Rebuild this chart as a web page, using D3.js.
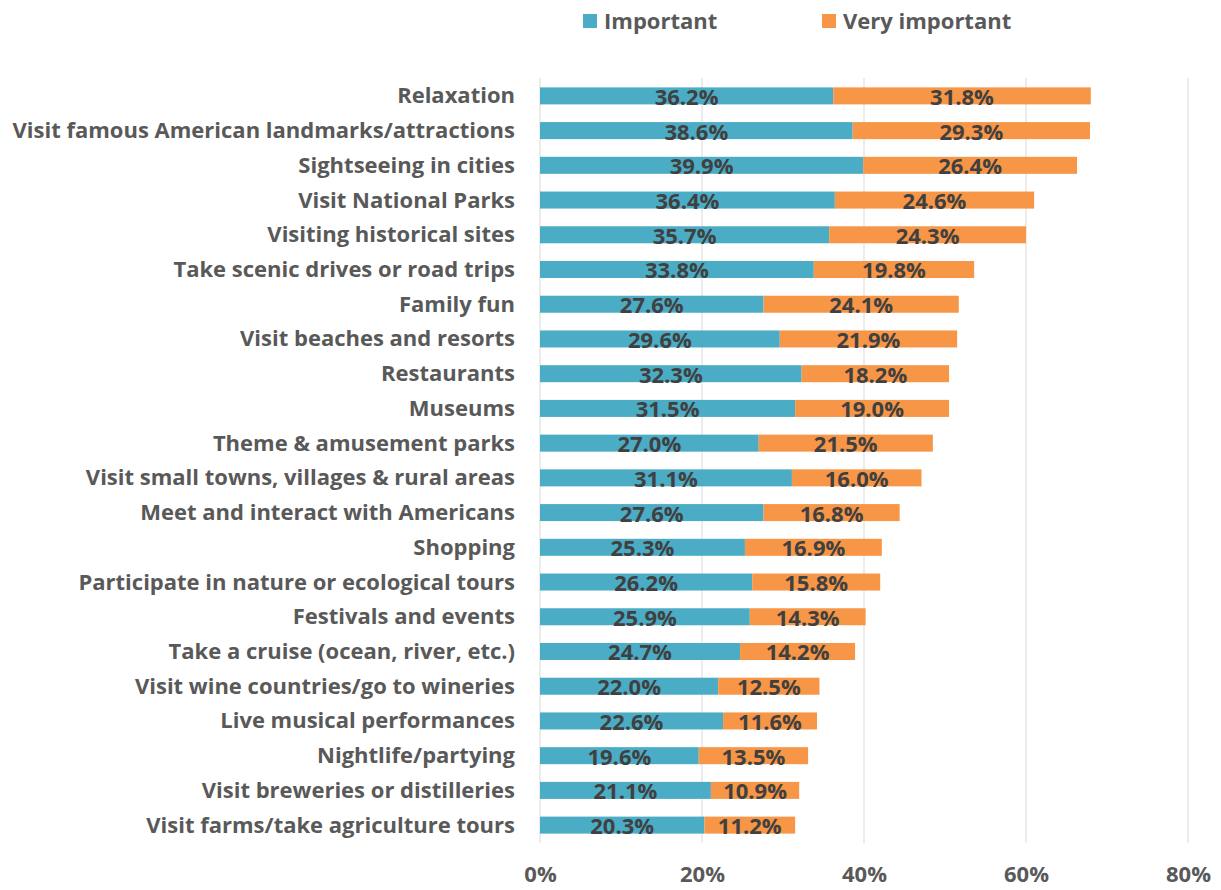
<!DOCTYPE html>
<html>
<head>
<meta charset="utf-8">
<script src="https://cdn.jsdelivr.net/npm/d3@7"></script>
<style>
  html, body { margin: 0; padding: 0; background: #fff; }
  svg text { font-family: "Open Sans", Lato, sans-serif; font-weight: 700; }
</style>
</head>
<body>
<svg id="chart" width="1221" height="890"></svg>
<script>
// Travel activity importance, share of respondents
const categories = [
  "Relaxation",
  "Visit famous American landmarks/attractions",
  "Sightseeing in cities",
  "Visit National Parks",
  "Visiting historical sites",
  "Take scenic drives or road trips",
  "Family fun",
  "Visit beaches and resorts",
  "Restaurants",
  "Museums",
  "Theme & amusement parks",
  "Visit small towns, villages & rural areas",
  "Meet and interact with Americans",
  "Shopping",
  "Participate in nature or ecological tours",
  "Festivals and events",
  "Take a cruise (ocean, river, etc.)",
  "Visit wine countries/go to wineries",
  "Live musical performances",
  "Nightlife/partying",
  "Visit breweries or distilleries",
  "Visit farms/take agriculture tours"
];
const important = [36.2, 38.6, 39.9, 36.4, 35.7, 33.8, 27.6, 29.6, 32.3, 31.5, 27.0, 31.1, 27.6, 25.3, 26.2, 25.9, 24.7, 22.0, 22.6, 19.6, 21.1, 20.3];
const veryImportant = [31.8, 29.3, 26.4, 24.6, 24.3, 19.8, 24.1, 21.9, 18.2, 19.0, 21.5, 16.0, 16.8, 16.9, 15.8, 14.3, 14.2, 12.5, 11.6, 13.5, 10.9, 11.2];
const seriesNames = ["Important", "Very important"];
const seriesColors = ["#4BACC6", "#F79646"];
const xTicks = [0, 20, 40, 60, 80];

const svg = d3.select("#chart");
const margin = { left: 540, right: 33, top: 78, bottom: 47 };
const W = 1221, H = 890;

const x = d3.scaleLinear().domain([0, 80]).range([margin.left, W - margin.right]);
const y = d3.scaleBand().domain(categories).range([margin.top, H - margin.bottom]).paddingInner(0.51).paddingOuter(0.27);

// vertical gridlines
svg.append("g").selectAll("line").data(xTicks).join("line")
  .attr("x1", d => x(d)).attr("x2", d => x(d))
  .attr("y1", margin.top).attr("y2", H - margin.bottom)
  .attr("stroke", "#D9D9D9").attr("stroke-width", 1);

// x axis labels
const xAxis = d3.axisBottom(x).tickValues(xTicks).tickFormat(d => d + "%").tickSize(0).tickPadding(0);
const gx = svg.append("g").attr("transform", `translate(0,${H - margin.bottom + 23})`).call(xAxis);
gx.select(".domain").remove();
gx.selectAll("text").attr("font-size", 22).attr("fill", "#595959").attr("dy", "0.71em");

// category labels
const gy = svg.append("g").attr("transform", `translate(${margin.left - 25},0)`)
  .call(d3.axisLeft(y).tickSize(0).tickPadding(0));
gy.select(".domain").remove();
gy.selectAll("text").attr("font-size", 22).attr("fill", "#595959").attr("dy", "0.34em");

const rows = categories.map((c, i) => ({ c, a: important[i], b: veryImportant[i] }));

const bars = svg.append("g");
rows.forEach(r => {
  const segs = [
    { x0: 0, x1: r.a, v: r.a, col: seriesColors[0] },
    { x0: r.a, x1: r.a + r.b, v: r.b, col: seriesColors[1] }
  ];
  segs.forEach(s => {
    bars.append("rect")
      .attr("x", x(s.x0)).attr("width", x(s.x1) - x(s.x0))
      .attr("y", y(r.c)).attr("height", y.bandwidth())
      .attr("fill", s.col);
    bars.append("text")
      .attr("x", (x(s.x0) + x(s.x1)) / 2)
      .attr("y", y(r.c) + y.bandwidth() / 2 + 1)
      .attr("dy", "0.36em")
      .attr("text-anchor", "middle")
      .attr("font-size", 22)
      .attr("fill", "#404040")
      .text(s.v.toFixed(1) + "%");
  });
});

// legend
const legendX = [583, 822];
const lg = svg.append("g");
seriesNames.forEach((n, i) => {
  lg.append("rect").attr("x", legendX[i]).attr("y", 14).attr("width", 14).attr("height", 14).attr("fill", seriesColors[i]);
  lg.append("text").attr("x", legendX[i] + 21).attr("y", 21).attr("dy", "0.36em")
    .attr("font-size", 22).attr("fill", "#595959").text(n);
});
</script>
</body>
</html>
